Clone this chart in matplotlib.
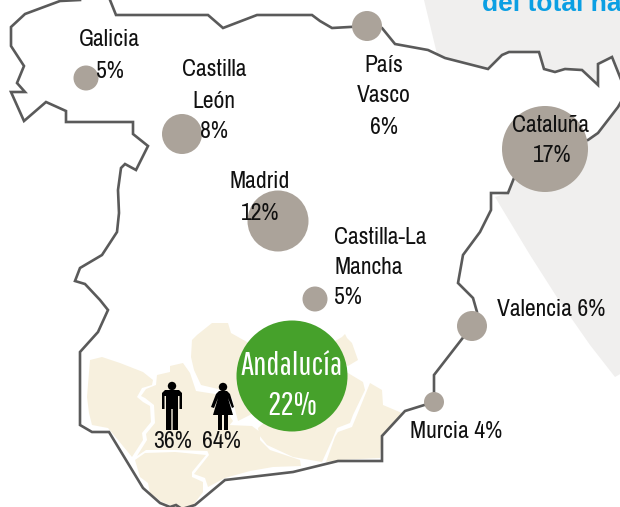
import matplotlib
matplotlib.use("Agg")
import matplotlib.pyplot as plt
from matplotlib import font_manager as fm
from matplotlib.patches import Circle, Polygon

installed = {f.name for f in fm.fontManager.ttflist}
if 'Archivo Narrow' in installed:
    FONT = ['Archivo Narrow', 'DejaVu Sans']
    FS = 17
else:
    FONT = ['Liberation Sans', 'DejaVu Sans']
    FS = 14.5
if 'Pathway Gothic One' in installed:
    FONT_BIG = ['Pathway Gothic One', 'DejaVu Sans']
    FS_BIG = 24
else:
    FONT_BIG = ['Liberation Sans', 'DejaVu Sans']
    FS_BIG = 18

# Regions: share (%), bubble centre and radius on the map image
regions = ['Galicia', 'Castilla León', 'Madrid', 'País Vasco', 'Cataluña',
           'Castilla-La Mancha', 'Valencia', 'Murcia']
shares = [5, 8, 12, 6, 17, 5, 6, 4]
bubble_x = [86, 182, 278, 367, 545, 315, 472, 434]
bubble_y = [78, 134, 221, 26, 149, 299, 326, 402]
bubble_r = [12.5, 20, 30.5, 15, 43, 12.5, 15, 10]

and_name = 'Andalucía'
and_share = 22
and_xy = (292, 376)
and_r = 55.5
men_share = 36
women_share = 64

# Coastline / border pieces
border_nw = [(80, 0), (60, 1), (25, 14), (11, 27), (11, 46), (24, 66), (17, 83), (25, 92), (11, 92),
             (24, 121), (46, 102), (66, 111), (66, 122), (133, 122), (133, 134), (148, 146), (136, 170),
             (125, 164), (121, 168), (118, 190), (119, 213), (117, 232), (102, 255), (80, 268), (75, 281),
             (85, 284), (100, 300), (108, 310), (98, 332), (80, 352), (80, 425), (92, 432), (109, 432),
             (143, 488), (160, 503), (170, 507), (176, 505), (182, 509), (195, 505), (225, 480), (293, 472),
             (338, 461), (382, 461), (382, 436), (405, 411), (434, 402), (434, 375), (472, 326), (477, 312),
             (473, 298), (458, 283), (463, 255), (480, 232), (491, 210), (491, 193), (508, 193), (514, 178), (545, 149)]
border_ne = [(545, 149), (588, 140), (598, 133), (618, 107), (622, 100)]
border_n = [(622, 82), (612, 57), (598, 64), (598, 85), (582, 70), (565, 69), (555, 72), (544, 69), (539, 52),
            (509, 52), (502, 55), (488, 69), (445, 58), (428, 50), (395, 44), (382, 28), (367, 26), (332, 28),
            (320, 21), (312, 15), (257, 15), (223, 28), (208, 15), (116, 15), (110, 0)]
grey_top = [(424, 0), (622, 0), (622, 82), (612, 57), (598, 64), (598, 85), (582, 70), (565, 69), (555, 72),
            (544, 69), (539, 52), (509, 52), (502, 55), (488, 69), (445, 58), (437, 54)]
grey_bottom = [(495, 197), (508, 193), (514, 178), (545, 149), (588, 140), (598, 133), (618, 107), (622, 100),
               (622, 373), (615, 377), (590, 345), (560, 302), (530, 255)]

# Province shapes
huelva = [(90, 360), (102, 357), (120, 363), (143, 372), (153, 380), (152, 385), (142, 388), (137, 397), (143, 402),
          (150, 406), (151, 422), (142, 433), (143, 440), (132, 457), (118, 440), (108, 428), (92, 425), (89, 413), (87, 397)]
sevilla = [(157, 375), (170, 372), (170, 366), (183, 363), (190, 373), (196, 391), (215, 394), (233, 421), (228, 427),
           (212, 448), (207, 451), (175, 450), (146, 450), (137, 456), (147, 440), (146, 434), (155, 423), (154, 405),
           (145, 398), (141, 396), (146, 389), (156, 385)]
cadiz = [(135, 460), (145, 453), (175, 452), (206, 455), (192, 472), (192, 477), (203, 482), (203, 492), (197, 500),
         (192, 507), (175, 507), (162, 502), (150, 493), (148, 483), (140, 477)]
malaga = [(194, 474), (209, 455), (207, 450), (228, 425), (252, 426), (260, 432), (260, 440), (270, 450), (300, 460),
          (301, 466), (273, 467), (250, 471), (225, 478), (208, 487), (205, 478)]
cordoba = [(192, 340), (197, 335), (212, 323), (228, 323), (231, 333), (247, 342), (270, 400), (250, 415), (238, 421),
           (232, 398), (218, 389), (201, 385), (194, 370), (191, 357)]
granada = [(258, 428), (290, 400), (348, 373), (363, 382), (365, 390), (353, 415), (350, 423), (337, 428), (332, 440),
           (322, 462), (293, 457), (267, 445), (259, 435)]
almeria = [(370, 383), (382, 390), (383, 405), (402, 413), (382, 436), (380, 458), (340, 460), (326, 462), (335, 437),
           (338, 432), (352, 427), (357, 415)]
jaen = [(342, 337), (345, 334), (347, 338), (352, 343), (358, 360), (348, 366), (320, 350)]
provinces = [huelva, sevilla, cadiz, malaga, cordoba, granada, almeria, jaen]

# Pictograms
man_body = [(165, 390), (179, 390), (182, 393), (182, 409), (179.5, 409), (179.5, 396), (178, 396), (178, 430), (172.7, 430),
            (172.7, 409), (171.3, 409), (171.3, 430), (166, 430), (166, 396), (164.5, 396), (164.5, 409), (162, 409), (162, 393)]
woman_body = [(219, 391), (227, 391), (230, 394), (234, 407), (232, 408), (228, 398), (233, 415), (228, 415), (228, 430),
              (224, 430), (224, 415), (222, 415), (222, 430), (218, 430), (218, 415), (213, 415), (218, 398), (214, 408),
              (211, 407), (216, 394)]

fig = plt.figure(figsize=(6.2, 5.07), dpi=100)
ax = fig.add_axes([0, 0, 1, 1])
ax.set_xlim(0, 620)
ax.set_ylim(507, 0)
ax.axis('off')

GREY_BG = '#f0efee'
for poly in (grey_top, grey_bottom):
    ax.add_patch(Polygon(poly, closed=True, fc=GREY_BG, ec='none', zorder=1))
for p in provinces:
    ax.add_patch(Polygon(p, closed=True, fc='#f7f0de', ec='none', zorder=2))

BORDER = '#5a5a5a'
for line in (border_nw, border_ne, border_n):
    ax.plot(*zip(*line), color=BORDER, lw=1.9, solid_joinstyle='miter', zorder=3)

for x, y, r in zip(bubble_x, bubble_y, bubble_r):
    ax.add_patch(Circle((x, y), r, fc='#aba39a', ec='none', zorder=4))
ax.add_patch(Circle(and_xy, and_r, fc='#46a12b', ec='none', zorder=4))

ax.add_patch(Circle((172, 386), 4.2, fc='black', ec='none', zorder=5))
ax.add_patch(Polygon(man_body, closed=True, fc='black', ec='none', zorder=5))
ax.add_patch(Circle((223, 387), 4.2, fc='black', ec='none', zorder=5))
ax.add_patch(Polygon(woman_body, closed=True, fc='black', ec='none', zorder=5))

def label(x, y, s, ha='center', fs=None, color='#111111', family=None):
    ax.text(x, y + 1, s, ha=ha, va='center', fontsize=fs or FS, color=color, family=family or FONT, zorder=6)

label(109, 39, regions[0])
label(110, 70, f'{shares[0]}%')
label(214, 69, 'Castilla')
label(214, 100, 'León')
label(214, 130, f'{shares[1]}%')
label(260, 181, regions[2])
label(260, 212, f'{shares[2]}%')
label(384, 64, 'País')
label(384, 95, 'Vasco')
label(384, 126, f'{shares[3]}%')
label(551, 125, regions[4])
label(552, 155, f'{shares[4]}%')
label(334, 236, 'Castilla-La', ha='left')
label(334, 267, 'Mancha', ha='left')
label(334, 297, f'{shares[5]}%', ha='left')
label(497, 309, f'{regions[6]} {shares[6]}%', ha='left')
label(410, 430, f'{regions[7]} {shares[7]}%', ha='left')
label(173, 441, f'{men_share}%')
label(221, 441, f'{women_share}%')
label(292, 365, and_name, fs=FS_BIG, color='white', family=FONT_BIG)
label(292, 405, f'{and_share}%', fs=FS_BIG, color='white', family=FONT_BIG)

ax.text(482, 11, 'del total na', ha='left', va='baseline', fontsize=19, fontweight='bold',
        color='#0b9fe3', family=['Liberation Sans', 'DejaVu Sans'], zorder=6, clip_on=True)

fig.savefig('out.png', dpi=100)
